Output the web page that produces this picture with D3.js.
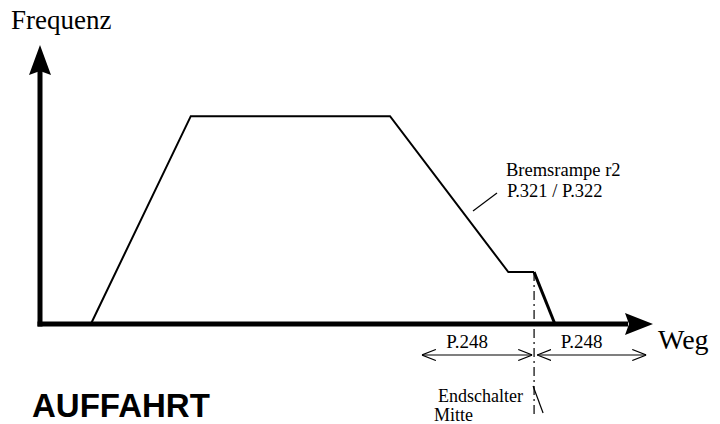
<!DOCTYPE html>
<html>
<head>
<meta charset="utf-8">
<script src="https://cdn.jsdelivr.net/npm/d3@7"></script>
<style>
  body { margin: 0; background: #fff; }
  svg { display: block; }
  .serif { font-family: "Liberation Serif", "Times New Roman", serif; fill: #000; }
</style>
</head>
<body>
<svg id="chart" width="720" height="424"></svg>
<script>
// profile of the drive (Weg in %, Frequenz in %)
var weg      = [8.3, 24.6, 57.1, 76.4, 80.6, 84.0];
var frequenz = [0,   74.5, 74.5, 18.6, 18.6, 0];
var endschalter = 80.6;   // limit switch position
var p248 = 18.3;          // distance P.248 on each side

var svg = d3.select("#chart");
var x = d3.scaleLinear().domain([0, 100]).range([40, 653]);
var y = d3.scaleLinear().domain([0, 100]).range([324, 45]);

var defs = svg.append("defs");
defs.append("marker").attr("id", "open").attr("viewBox", "0 0 14 12")
    .attr("refX", 14).attr("refY", 6).attr("markerWidth", 14).attr("markerHeight", 12)
    .attr("markerUnits", "userSpaceOnUse").attr("orient", "auto-start-reverse")
    .append("path").attr("d", "M0,0.5 L14,6 L0,11.5").style("fill", "none").style("stroke", "#000").style("stroke-width", 1.2);

// axes
svg.append("line").attr("x1", x(0)).attr("x2", x(0)).attr("y1", y(0) + 2.5).attr("y2", y(100) + 25)
    .style("stroke", "#000").style("stroke-width", 5);
svg.append("line").attr("x1", x(0) - 2.5).attr("x2", x(100) - 25).attr("y1", y(0)).attr("y2", y(0))
    .style("stroke", "#000").style("stroke-width", 5);
svg.append("path").attr("d", "M" + x(0) + "," + y(100) + " l-11,30 l11,-4 l11,4 z").style("fill", "#000");
svg.append("path").attr("d", "M" + x(100) + "," + y(0) + " l-28,-11 l4,11 l-4,11 z").style("fill", "#000");

// ramp profile
var pts = weg.map(function (d, i) { return [x(d), y(frequenz[i])]; });
svg.append("path").attr("d", d3.line()(pts.slice(0, 5)))
    .style("fill", "none").style("stroke", "#000").style("stroke-width", 2);
svg.append("path").attr("d", d3.line()(pts.slice(4)))
    .style("fill", "none").style("stroke", "#000").style("stroke-width", 3);

// limit switch dash-dot line
svg.append("line").attr("x1", x(endschalter)).attr("x2", x(endschalter))
    .attr("y1", y(18.6)).attr("y2", 417)
    .style("stroke", "#000").style("stroke-width", 1.2).style("stroke-dasharray", "9,4,2,4");
svg.append("line").attr("x1", x(endschalter) - 1).attr("y1", 386).attr("x2", x(endschalter) + 9).attr("y2", 413)
    .style("stroke", "#000").style("stroke-width", 1.2);

// P.248 dimension arrows
[[endschalter - p248, endschalter - 0.3], [endschalter + 0.5, endschalter + p248]].forEach(function (r) {
    svg.append("line").attr("x1", x(r[0])).attr("x2", x(r[1])).attr("y1", 355).attr("y2", 355)
        .style("stroke", "#000").style("stroke-width", 1.2)
        .attr("marker-start", "url(#open)").attr("marker-end", "url(#open)");
    svg.append("text").attr("class", "serif").attr("x", (x(r[0]) + x(r[1])) / 2 - 10).attr("y", 348)
        .style("font-size", "19px").style("text-anchor", "middle").text("P.248");
});

// labels
svg.append("text").attr("class", "serif").attr("x", 11).attr("y", 29).style("font-size", "27px").text("Frequenz");
svg.append("text").attr("class", "serif").attr("x", 658).attr("y", 349).style("font-size", "28px").text("Weg");
svg.append("text").attr("class", "serif").attr("x", 506).attr("y", 176).style("font-size", "18.5px").text("Bremsrampe r2");
svg.append("text").attr("class", "serif").attr("x", 507).attr("y", 197).style("font-size", "18.5px").text("P.321 / P.322");
svg.append("line").attr("x1", 473).attr("y1", 211).attr("x2", 497).attr("y2", 193).style("stroke", "#000").style("stroke-width", 1.2);
svg.append("text").attr("class", "serif").attr("x", 438).attr("y", 402).style("font-size", "18px").text("Endschalter");
svg.append("text").attr("class", "serif").attr("x", 434).attr("y", 421).style("font-size", "18px").text("Mitte");
svg.append("text").attr("x", 32).attr("y", 417)
    .style("font-family", "'Liberation Sans', Arial, sans-serif").style("font-weight", "bold")
    .style("font-size", "33px").text("AUFFAHRT");
</script>
</body>
</html>
